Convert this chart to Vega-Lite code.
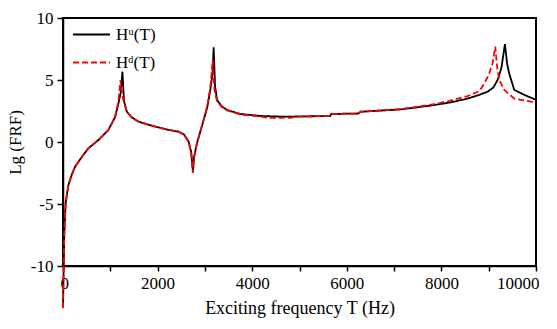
{
  "$schema": "https://vega.github.io/schema/vega-lite/v6.json",
  "width": 473,
  "height": 248,
  "autosize": "none",
  "padding": {"left": 63, "top": 18, "right": 21, "bottom": 63},
  "background": "white",
  "view": {"stroke": "black", "strokeWidth": 1.5},
  "datasets": {
    "frf": [
      {"f": 0, "v": -13.3, "s": "Hᵘ(T)"},
      {"f": 15, "v": -10, "s": "Hᵘ(T)"},
      {"f": 28, "v": -7.3, "s": "Hᵘ(T)"},
      {"f": 57, "v": -4.9, "s": "Hᵘ(T)"},
      {"f": 112, "v": -3.5, "s": "Hᵘ(T)"},
      {"f": 180, "v": -2.7, "s": "Hᵘ(T)"},
      {"f": 254, "v": -2.0, "s": "Hᵘ(T)"},
      {"f": 400, "v": -1.2, "s": "Hᵘ(T)"},
      {"f": 537, "v": -0.5, "s": "Hᵘ(T)"},
      {"f": 749, "v": 0.16, "s": "Hᵘ(T)"},
      {"f": 960, "v": 0.97, "s": "Hᵘ(T)"},
      {"f": 1100, "v": 2.0, "s": "Hᵘ(T)"},
      {"f": 1172, "v": 3.1, "s": "Hᵘ(T)"},
      {"f": 1220, "v": 4.0, "s": "Hᵘ(T)"},
      {"f": 1257, "v": 5.67, "s": "Hᵘ(T)"},
      {"f": 1290, "v": 3.3, "s": "Hᵘ(T)"},
      {"f": 1349, "v": 2.45, "s": "Hᵘ(T)"},
      {"f": 1450, "v": 2.0, "s": "Hᵘ(T)"},
      {"f": 1596, "v": 1.64, "s": "Hᵘ(T)"},
      {"f": 1800, "v": 1.4, "s": "Hᵘ(T)"},
      {"f": 1949, "v": 1.24, "s": "Hᵘ(T)"},
      {"f": 2200, "v": 1.0, "s": "Hᵘ(T)"},
      {"f": 2443, "v": 0.83, "s": "Hᵘ(T)"},
      {"f": 2560, "v": 0.6, "s": "Hᵘ(T)"},
      {"f": 2655, "v": 0.03, "s": "Hᵘ(T)"},
      {"f": 2710, "v": -0.8, "s": "Hᵘ(T)"},
      {"f": 2747, "v": -2.4, "s": "Hᵘ(T)"},
      {"f": 2770, "v": -1.2, "s": "Hᵘ(T)"},
      {"f": 2832, "v": -0.1, "s": "Hᵘ(T)"},
      {"f": 2900, "v": 0.8, "s": "Hᵘ(T)"},
      {"f": 2973, "v": 1.77, "s": "Hᵘ(T)"},
      {"f": 3050, "v": 2.8, "s": "Hᵘ(T)"},
      {"f": 3114, "v": 4.2, "s": "Hᵘ(T)"},
      {"f": 3160, "v": 5.5, "s": "Hᵘ(T)"},
      {"f": 3185, "v": 7.63, "s": "Hᵘ(T)"},
      {"f": 3215, "v": 4.5, "s": "Hᵘ(T)"},
      {"f": 3256, "v": 3.4, "s": "Hᵘ(T)"},
      {"f": 3350, "v": 2.9, "s": "Hᵘ(T)"},
      {"f": 3468, "v": 2.58, "s": "Hᵘ(T)"},
      {"f": 3750, "v": 2.26, "s": "Hᵘ(T)"},
      {"f": 4174, "v": 2.1, "s": "Hᵘ(T)"},
      {"f": 4668, "v": 2.04, "s": "Hᵘ(T)"},
      {"f": 5650, "v": 2.1, "s": "Hᵘ(T)"},
      {"f": 5670, "v": 2.26, "s": "Hᵘ(T)"},
      {"f": 6250, "v": 2.3, "s": "Hᵘ(T)"},
      {"f": 6292, "v": 2.44, "s": "Hᵘ(T)"},
      {"f": 6928, "v": 2.58, "s": "Hᵘ(T)"},
      {"f": 7140, "v": 2.63, "s": "Hᵘ(T)"},
      {"f": 7500, "v": 2.8, "s": "Hᵘ(T)"},
      {"f": 7846, "v": 2.98, "s": "Hᵘ(T)"},
      {"f": 8200, "v": 3.2, "s": "Hᵘ(T)"},
      {"f": 8553, "v": 3.5, "s": "Hᵘ(T)"},
      {"f": 8800, "v": 3.8, "s": "Hᵘ(T)"},
      {"f": 8977, "v": 4.06, "s": "Hᵘ(T)"},
      {"f": 9100, "v": 4.4, "s": "Hᵘ(T)"},
      {"f": 9188, "v": 5.0, "s": "Hᵘ(T)"},
      {"f": 9270, "v": 6.0, "s": "Hᵘ(T)"},
      {"f": 9343, "v": 7.9, "s": "Hᵘ(T)"},
      {"f": 9390, "v": 6.3, "s": "Hᵘ(T)"},
      {"f": 9435, "v": 5.5, "s": "Hᵘ(T)"},
      {"f": 9541, "v": 4.2, "s": "Hᵘ(T)"},
      {"f": 9753, "v": 3.8, "s": "Hᵘ(T)"},
      {"f": 10000, "v": 3.4, "s": "Hᵘ(T)"},

      {"f": 0, "v": -13.4, "s": "Hᵈ(T)"},
      {"f": 15, "v": -10, "s": "Hᵈ(T)"},
      {"f": 28, "v": -7.3, "s": "Hᵈ(T)"},
      {"f": 57, "v": -4.9, "s": "Hᵈ(T)"},
      {"f": 112, "v": -3.5, "s": "Hᵈ(T)"},
      {"f": 180, "v": -2.7, "s": "Hᵈ(T)"},
      {"f": 254, "v": -2.0, "s": "Hᵈ(T)"},
      {"f": 400, "v": -1.2, "s": "Hᵈ(T)"},
      {"f": 537, "v": -0.5, "s": "Hᵈ(T)"},
      {"f": 749, "v": 0.16, "s": "Hᵈ(T)"},
      {"f": 960, "v": 0.97, "s": "Hᵈ(T)"},
      {"f": 1100, "v": 2.0, "s": "Hᵈ(T)"},
      {"f": 1172, "v": 3.3, "s": "Hᵈ(T)"},
      {"f": 1215, "v": 5.0, "s": "Hᵈ(T)"},
      {"f": 1260, "v": 3.6, "s": "Hᵈ(T)"},
      {"f": 1349, "v": 2.45, "s": "Hᵈ(T)"},
      {"f": 1450, "v": 2.0, "s": "Hᵈ(T)"},
      {"f": 1596, "v": 1.64, "s": "Hᵈ(T)"},
      {"f": 1800, "v": 1.4, "s": "Hᵈ(T)"},
      {"f": 1949, "v": 1.24, "s": "Hᵈ(T)"},
      {"f": 2200, "v": 1.0, "s": "Hᵈ(T)"},
      {"f": 2443, "v": 0.83, "s": "Hᵈ(T)"},
      {"f": 2560, "v": 0.6, "s": "Hᵈ(T)"},
      {"f": 2655, "v": 0.0, "s": "Hᵈ(T)"},
      {"f": 2710, "v": -0.9, "s": "Hᵈ(T)"},
      {"f": 2745, "v": -2.5, "s": "Hᵈ(T)"},
      {"f": 2770, "v": -1.3, "s": "Hᵈ(T)"},
      {"f": 2832, "v": -0.1, "s": "Hᵈ(T)"},
      {"f": 2900, "v": 0.8, "s": "Hᵈ(T)"},
      {"f": 2973, "v": 1.8, "s": "Hᵈ(T)"},
      {"f": 3050, "v": 2.9, "s": "Hᵈ(T)"},
      {"f": 3114, "v": 4.4, "s": "Hᵈ(T)"},
      {"f": 3165, "v": 6.6, "s": "Hᵈ(T)"},
      {"f": 3200, "v": 4.3, "s": "Hᵈ(T)"},
      {"f": 3256, "v": 3.3, "s": "Hᵈ(T)"},
      {"f": 3350, "v": 2.85, "s": "Hᵈ(T)"},
      {"f": 3468, "v": 2.55, "s": "Hᵈ(T)"},
      {"f": 3750, "v": 2.22, "s": "Hᵈ(T)"},
      {"f": 4174, "v": 2.05, "s": "Hᵈ(T)"},
      {"f": 4350, "v": 1.95, "s": "Hᵈ(T)"},
      {"f": 4800, "v": 1.95, "s": "Hᵈ(T)"},
      {"f": 4950, "v": 2.04, "s": "Hᵈ(T)"},
      {"f": 5650, "v": 2.1, "s": "Hᵈ(T)"},
      {"f": 5670, "v": 2.26, "s": "Hᵈ(T)"},
      {"f": 6250, "v": 2.3, "s": "Hᵈ(T)"},
      {"f": 6292, "v": 2.44, "s": "Hᵈ(T)"},
      {"f": 6928, "v": 2.6, "s": "Hᵈ(T)"},
      {"f": 7140, "v": 2.65, "s": "Hᵈ(T)"},
      {"f": 7500, "v": 2.85, "s": "Hᵈ(T)"},
      {"f": 7846, "v": 3.05, "s": "Hᵈ(T)"},
      {"f": 8200, "v": 3.35, "s": "Hᵈ(T)"},
      {"f": 8553, "v": 3.7, "s": "Hᵈ(T)"},
      {"f": 8800, "v": 4.1, "s": "Hᵈ(T)"},
      {"f": 8905, "v": 4.7, "s": "Hᵈ(T)"},
      {"f": 9000, "v": 5.4, "s": "Hᵈ(T)"},
      {"f": 9082, "v": 6.35, "s": "Hᵈ(T)"},
      {"f": 9138, "v": 7.7, "s": "Hᵈ(T)"},
      {"f": 9180, "v": 6.0, "s": "Hᵈ(T)"},
      {"f": 9223, "v": 5.0, "s": "Hᵈ(T)"},
      {"f": 9329, "v": 4.2, "s": "Hᵈ(T)"},
      {"f": 9541, "v": 3.5, "s": "Hᵈ(T)"},
      {"f": 9894, "v": 3.25, "s": "Hᵈ(T)"},
      {"f": 10000, "v": 3.2, "s": "Hᵈ(T)"}
    ]
  },
  "data": {"name": "frf"},
  "layer": [
    {
      "mark": {"type": "rect", "filled": false, "color": "black", "strokeWidth": 1.5},
      "encoding": {
        "x": {"datum": 0, "type": "quantitative", "scale": {"domain": [0, 10000], "nice": false, "zero": false}},
        "x2": {"datum": 10000},
        "y": {"datum": -10, "type": "quantitative", "scale": {"domain": [-10, 10], "nice": false, "zero": false}},
        "y2": {"datum": 10}
      }
    },
    {
      "mark": {"type": "line", "strokeWidth": 1.8, "interpolate": "linear"},
      "encoding": {
        "x": {"field": "f", "type": "quantitative", "scale": {"domain": [0, 10000], "nice": false, "zero": false},
          "axis": {"orient": "bottom", "values": [0,1000,2000,3000,4000,5000,6000,7000,8000,9000,10000], "labelExpr": "datum.value % 2000 == 0 ? '' + datum.value : ''", "grid": false, "domainColor": "black", "domainWidth": 1.5, "tickColor": "black", "tickWidth": 1.5, "tickSize": 5, "labelColor": "black", "labelPadding": 4, "labelFont": "Liberation Serif", "labelFontSize": 17, "labelFlush": true, "labelFlushOffset": 3, "title": "Exciting frequency T (Hz)", "titleColor": "black", "titleFont": "Liberation Serif", "titleFontWeight": "normal", "titleFontSize": 18, "titlePadding": 8}},
        "y": {"field": "v", "type": "quantitative", "scale": {"domain": [-10, 10], "nice": false, "zero": false},
          "axis": {"orient": "left", "values": [-10,-7.5,-5,-2.5,0,2.5,5,7.5,10], "labelExpr": "datum.value % 5 == 0 ? '' + datum.value : ''", "grid": false, "domainColor": "black", "domainWidth": 1.5, "tickColor": "black", "tickWidth": 1.5, "tickSize": 6, "labelColor": "black", "labelPadding": 4, "labelFont": "Liberation Serif", "labelFontSize": 17, "labelFlush": false, "title": "Lg (FRF)", "titleColor": "black", "titleFont": "Liberation Serif", "titleFontWeight": "normal", "titleFontSize": 17, "titlePadding": 6}},
        "color": {"field": "s", "type": "nominal", "sort": ["Hᵘ(T)", "Hᵈ(T)"], "scale": {"domain": ["Hᵘ(T)", "Hᵈ(T)"], "range": ["#000000", "#ff0000"]},
          "legend": {"title": null, "orient": "none", "legendX": 9, "legendY": -3, "padding": 0, "symbolType": "stroke", "symbolSize": 1369, "symbolStrokeWidth": 2, "labelFont": "Liberation Serif", "labelFontSize": 17, "labelColor": "black", "labelOffset": 5, "rowPadding": -10}},
        "strokeDash": {"field": "s", "type": "nominal", "sort": ["Hᵘ(T)", "Hᵈ(T)"], "scale": {"domain": ["Hᵘ(T)", "Hᵈ(T)"], "range": [[1, 0], [6, 3]]},
          "legend": {"title": null, "orient": "none", "legendX": 9, "legendY": -3, "padding": 0, "symbolType": "stroke", "symbolSize": 1369, "symbolStrokeWidth": 2, "labelFont": "Liberation Serif", "labelFontSize": 17, "labelColor": "black", "labelOffset": 5, "rowPadding": -10}}
      }
    }
  ]
}
